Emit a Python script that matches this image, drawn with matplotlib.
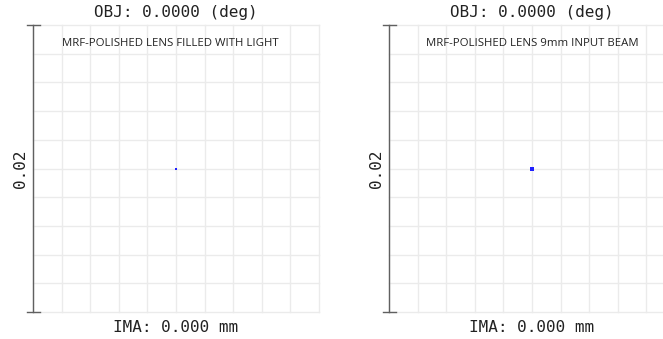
import numpy as np
import matplotlib
matplotlib.use("Agg")
import matplotlib.pyplot as plt

# Data
titles = ["OBJ: 0.0000 (deg)", "OBJ: 0.0000 (deg)"]
xlabels = ["IMA: 0.000 mm", "IMA: 0.000 mm"]
notes = ["MRF-POLISHED LENS FILLED WITH LIGHT", "MRF-POLISHED LENS 9mm INPUT BEAM"]
scale_label = "0.02"
scale_value = 0.02
spot_x = [[0.0], [0.0]]
spot_y = [[0.0], [0.0]]
spot_size = [4, 10]
grid_ticks = np.linspace(-0.01, 0.01, 11)

W, H = 663, 339
fig = plt.figure(figsize=(W / 100, H / 100), dpi=100)

mono = "DejaVu Sans Mono"
panel_left = [33, 389]
panel_w = 286
panel_top = 25
panel_h = 287
note_x = [170, 532]

for i in range(2):
    ax = fig.add_axes([panel_left[i] / W, (H - panel_top - panel_h) / H, panel_w / W, panel_h / H])
    half = scale_value / 2
    ax.set_xlim(-half, half)
    ax.set_ylim(-half, half)
    for s in ax.spines.values():
        s.set_visible(False)
    ax.set_xticks([])
    ax.set_yticks([])
    for t in grid_ticks:
        ax.plot([t, t], [-half, half], color="#ebebeb", lw=1.0, clip_on=False, zorder=1)
        ax.plot([-half, half], [t, t], color="#ebebeb", lw=1.0, clip_on=False, zorder=1)
    # scale bar
    ax.plot([0, 0], [0, 1], transform=ax.transAxes, color="#606060", lw=1.0, clip_on=False, zorder=3)
    for yy in (0, 1):
        ax.plot([-6 / panel_w, 7 / panel_w], [yy, yy], transform=ax.transAxes,
                color="#606060", lw=1.0, clip_on=False, zorder=3)
    ax.text(-13 / panel_w, 0.5, scale_label, transform=ax.transAxes, rotation=90,
            ha="center", va="center", fontsize=11.5, family=mono, color="#222222")
    # spot
    ax.scatter(spot_x[i], spot_y[i], s=spot_size[i], marker="s", color="#2020ff",
               linewidths=0, zorder=4)
    # texts
    cx = (panel_left[i] + panel_w / 2) / W
    fig.text(cx, 1 - 12 / H, titles[i], ha="center", va="center", fontsize=11.5,
             family=mono, color="#222222")
    fig.text(cx, 1 - 327 / H, xlabels[i], ha="center", va="center", fontsize=11.5,
             family=mono, color="#222222")
    fig.text(note_x[i] / W, 1 - 43 / H, notes[i], ha="center", va="center",
             fontsize=8.2, family="Open Sans", color="#222222")

fig.savefig("out.png", dpi=100)
